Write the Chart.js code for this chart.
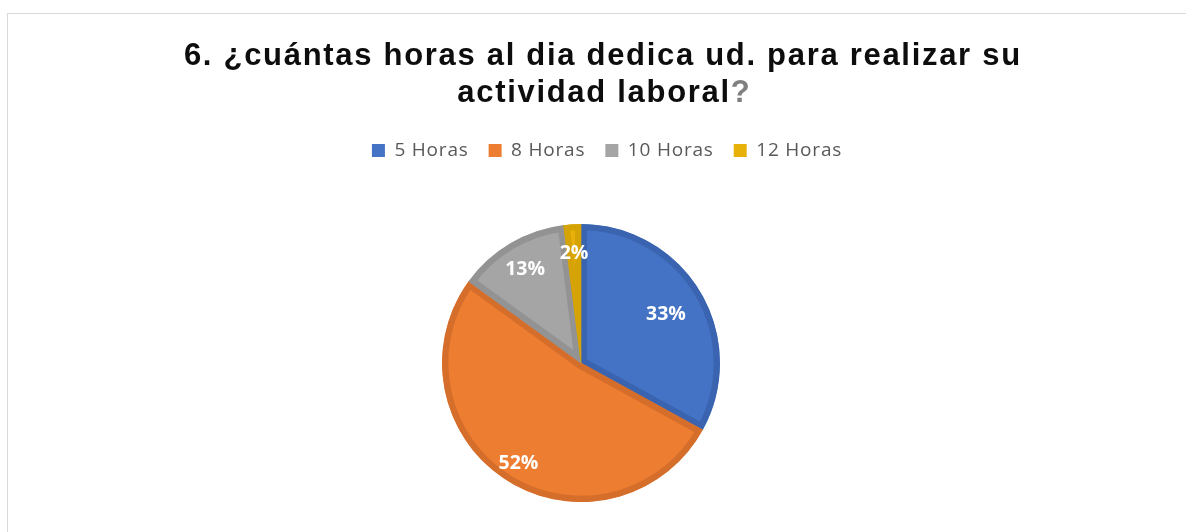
<!DOCTYPE html>
<html>
<head>
<meta charset="utf-8">
<script src="https://cdn.jsdelivr.net/npm/chart.js@4.4.1/dist/chart.umd.min.js"></script>
<style>
  html, body { margin: 0; padding: 0; background: #ffffff; overflow: hidden; }
  #frame { position: absolute; left: 7px; top: 13px; width: 1300px; height: 700px;
           border-left: 1px solid #d9d9d9; border-top: 1px solid #d9d9d9; }
  #c { position: absolute; left: 0; top: 0; }
</style>
</head>
<body>
<div id="frame"></div>
<canvas id="c" width="1186" height="532"></canvas>
<script>
// ---- data ----
const titleLines = ["6. ¿cuántas horas al dia dedica ud. para realizar su", "actividad laboral"];
const titleEnd = "?";
const categories = ["5 Horas", "8 Horas", "10 Horas", "12 Horas"];
const percentValues = [33, 52, 13, 2];
const fillColors = ["#4472C4", "#ED7D31", "#A5A5A5", "#E8B10A"];
const borderColors = ["#3A64AF", "#D56E2B", "#939393", "#D6A307"];

// label placement (fraction of radius) per slice
const labelRadiusFrac = [0.71, 0.84, 0.79, 0.80];

const spacingPlugin = {
  id: 'spacing',
  beforeLayout(chart) { chart.ctx.letterSpacing = '0.8px'; },
  afterLayout(chart) {
    // legend sits a little right of and above where the layout puts it
    chart.legend.left += 26;
    chart.legend.right += 26;
    chart.legend.top -= 24;
    chart.legend.bottom -= 24;
  },
  beforeDraw(chart) { chart.ctx.letterSpacing = '0.8px'; }
};

const labelPlugin = {
  id: 'sliceLabels',
  afterDatasetsDraw(chart) {
    const ctx = chart.ctx;
    const meta = chart.getDatasetMeta(0);
    const total = percentValues.reduce((a, b) => a + b, 0);
    ctx.save();
    ctx.letterSpacing = '0px';
    ctx.font = 'bold 19.5px "Open Sans"';
    ctx.fillStyle = '#ffffff';
    ctx.textAlign = 'center';
    ctx.textBaseline = 'alphabetic';
    meta.data.forEach((arc, i) => {
      const p = arc.getProps(['x', 'y', 'startAngle', 'endAngle', 'outerRadius'], true);
      const mid = (p.startAngle + p.endAngle) / 2;
      const r = p.outerRadius * labelRadiusFrac[i];
      const x = p.x + Math.cos(mid) * r;
      const y = p.y + Math.sin(mid) * r;
      const txt = Math.round(percentValues[i] / total * 100) + '%';
      ctx.fillText(txt, x, y + 7);
    });
    ctx.restore();
  }
};

const titlePlugin = {
  id: 'manualTitle',
  afterDraw(chart) {
    const ctx = chart.ctx;
    const sp = 1.7;
    ctx.save();
    ctx.font = 'bold 31px "Liberation Sans", Arial, sans-serif';
    ctx.letterSpacing = sp + 'px';
    ctx.textAlign = 'left';
    ctx.textBaseline = 'alphabetic';
    ctx.fillStyle = '#0d0d0d';
    const cx = 602;
    const w = ctx.measureText(titleLines[0]).width - sp;
    ctx.fillText(titleLines[0], cx - w / 2, 64.5);
    const w2a = ctx.measureText(titleLines[1]).width;
    const w2b = ctx.measureText(titleEnd).width;
    const w2 = w2a + w2b - sp;
    const x2 = cx + 1.5 - w2 / 2;
    ctx.fillText(titleLines[1], x2, 101.5);
    ctx.fillStyle = '#7f7f7f';
    ctx.fillText(titleEnd, x2 + w2a, 101.5);
    ctx.restore();
  }
};

new Chart(document.getElementById('c'), {
  type: 'pie',
  data: {
    labels: categories,
    datasets: [{
      data: percentValues,
      backgroundColor: fillColors,
      borderColor: borderColors,
      borderWidth: 6,
      borderAlign: 'inner',
      radius: 139,
      offset: 0,
      hoverOffset: 0,
      clip: false
    }]
  },
  options: {
    responsive: false,
    animation: false,
    events: [],
    layout: { padding: { top: 145, left: 0, right: 24, bottom: 0 } },
    plugins: {
      title: { display: false },
      tooltip: { enabled: false },
      legend: {
        display: true,
        position: 'top',
        labels: {
          boxWidth: 13,
          boxHeight: 13,
          padding: 20,
          color: '#595959',
          font: { family: '"Open Sans"', size: 19 },
          generateLabels(chart) {
            const items = Chart.controllers.pie.overrides.plugins.legend.labels.generateLabels(chart);
            items.forEach(it => { it.lineWidth = 0; it.strokeStyle = it.fillStyle; });
            return items;
          }
        }
      }
    }
  },
  plugins: [spacingPlugin, labelPlugin, titlePlugin]
});
</script>
</body>
</html>
